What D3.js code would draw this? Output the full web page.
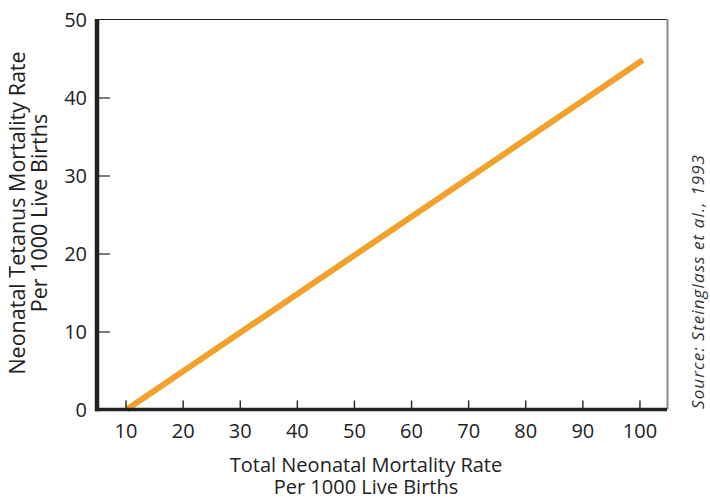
<!DOCTYPE html>
<html>
<head>
<meta charset="utf-8">
<script src="https://cdn.jsdelivr.net/npm/d3@7"></script>
<style>
  body { margin: 0; background: #fff; }
  text { font-family: "Open Sans", "Lato", sans-serif; fill: #222; }
</style>
</head>
<body>
<script>
// data
var xTicks = [10, 20, 30, 40, 50, 60, 70, 80, 90, 100];
var yTicks = [0, 10, 20, 30, 40, 50];
var totalRate = [10.2, 100.6];    // total neonatal mortality per 1000
var tetanusRate = [0, 44.8];      // neonatal tetanus mortality per 1000
var xTitle = ["Total Neonatal Mortality Rate", "Per 1000 Live Births"];
var yTitle = ["Neonatal Tetanus Mortality Rate", "Per 1000 Live Births"];
var source = "Source: Steinglass et al., 1993";

var width = 710, height = 499;
var mLeft = 97, mRight = 668, mTop = 19.5, mBottom = 409.5;

var svg = d3.select("body").append("svg")
    .attr("width", width)
    .attr("height", height);

var x = d3.scaleLinear().domain([5, 105]).range([mLeft, mRight]);
var y = d3.scaleLinear().domain([0, 50]).range([mBottom, mTop]);

// frame: thin top, gray right
svg.append("line")
    .attr("x1", mLeft).attr("x2", mRight - 1)
    .attr("y1", mTop).attr("y2", mTop)
    .attr("stroke", "#222").attr("stroke-width", 1.2);
svg.append("line")
    .attr("x1", mRight - 0.5).attr("x2", mRight - 0.5)
    .attr("y1", mTop - 0.5).attr("y2", mBottom)
    .attr("stroke", "#8a8a8a").attr("stroke-width", 2);

// data line
var pts = totalRate.map(function(d, i){ return [d, tetanusRate[i]]; });
var line = d3.line()
    .x(function(d){ return x(d[0]); })
    .y(function(d){ return y(d[1]); });
svg.append("path")
    .datum(pts)
    .attr("d", line)
    .attr("fill", "none")
    .attr("stroke", "#f2a22c")
    .attr("stroke-width", 6);

// x axis
var xAxis = svg.append("g")
    .attr("transform", "translate(0," + mBottom + ")")
    .call(d3.axisBottom(x).tickValues(xTicks).tickSize(0).tickPadding(0));
xAxis.select(".domain").remove();
xAxis.selectAll(".tick text")
    .attr("y", 28).attr("dy", null)
    .style("font-size", "20px").style("fill", "#222");
xAxis.selectAll(".tick").append("line")
    .attr("y1", 0).attr("y2", -9)
    .attr("stroke", "#222").attr("stroke-width", 1.4);

// y axis
var yAxis = svg.append("g")
    .attr("transform", "translate(" + mLeft + ",0)")
    .call(d3.axisLeft(y).tickValues(yTicks).tickSize(0).tickPadding(0));
yAxis.select(".domain").remove();
yAxis.selectAll(".tick text")
    .attr("x", -10).attr("dy", "0.35em")
    .style("font-size", "20px").style("fill", "#222");
yAxis.selectAll(".tick").filter(function(d){ return d > 0 && d < 50; })
    .append("line")
    .attr("x1", 0).attr("x2", 13)
    .attr("stroke", "#222").attr("stroke-width", 1.2);

// heavy axis lines
svg.append("line")
    .attr("x1", mLeft).attr("x2", mLeft)
    .attr("y1", mTop - 0.5).attr("y2", mBottom + 1.8)
    .attr("stroke", "#222").attr("stroke-width", 4.5);
svg.append("line")
    .attr("x1", mLeft - 2).attr("x2", mRight - 1)
    .attr("y1", mBottom).attr("y2", mBottom)
    .attr("stroke", "#222").attr("stroke-width", 3.5);

// axis titles
svg.append("g").selectAll("text")
    .data(xTitle)
    .enter().append("text")
    .attr("x", 366)
    .attr("y", function(d, i){ return 472 + i * 21.5; })
    .attr("text-anchor", "middle")
    .style("font-size", "20px")
    .text(function(d){ return d; });

svg.append("g").selectAll("text")
    .data(yTitle)
    .enter().append("text")
    .attr("transform", function(d, i){ return "translate(" + (25 + i * 22) + ",213) rotate(-90)"; })
    .attr("text-anchor", "middle")
    .style("font-size", "21.5px")
    .text(function(d){ return d; });

svg.append("text")
    .attr("transform", "translate(704,282) rotate(-90)")
    .attr("text-anchor", "middle")
    .attr("textLength", 254)
    .attr("lengthAdjust", "spacing")
    .style("font-size", "17px")
    .style("font-style", "italic")
    .style("fill", "#333")
    .text(source);
</script>
</body>
</html>
